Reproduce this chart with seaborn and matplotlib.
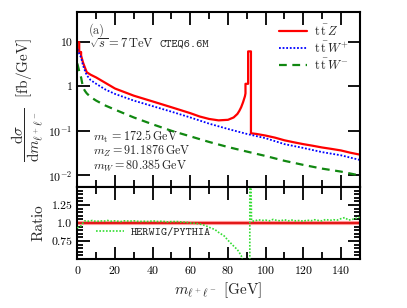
import numpy as np
import pandas as pd
import matplotlib
matplotlib.use("Agg")
import matplotlib.pyplot as plt
from matplotlib.ticker import MultipleLocator, FixedLocator, NullLocator
import seaborn as sns

# --- datos ---
m_ttz = [0, 1, 1, 2, 2, 3, 4, 5, 7, 10, 15, 20, 30, 40, 50, 60, 65, 70, 75, 80,
         83, 85, 86, 87, 88, 89, 89.3, 89.3, 90.7, 90.7, 92.2, 92.2, 95, 100,
         105, 110, 115, 120, 125, 130, 135, 140, 145, 150]
ttz = [10, 10, 6, 6, 5, 3.5, 2.7, 2.1, 1.85, 1.6, 1.2, 0.9, 0.62, 0.46, 0.34,
       0.25, 0.21, 0.185, 0.172, 0.177, 0.2, 0.24, 0.28, 0.34, 0.44, 0.6, 0.7,
       1.15, 1.15, 6.2, 6.2, 0.088, 0.085, 0.078, 0.07, 0.061, 0.055, 0.05,
       0.046, 0.042, 0.039, 0.036, 0.032, 0.029]

m_w = [0, 1, 2, 3, 4, 5, 7, 10, 15, 20, 30, 40, 50, 60, 70, 80, 90, 100, 110,
       120, 130, 140, 150]
ttwp = [7, 5.5, 4.5, 3, 2.3, 1.8, 1.4, 1.15, 0.85, 0.68, 0.48, 0.36, 0.27, 0.2,
        0.145, 0.11, 0.085, 0.068, 0.05, 0.041, 0.033, 0.028, 0.022]
ttwm = [3.3, 2.2, 1.6, 0.96, 0.8, 0.7, 0.58, 0.48, 0.37, 0.3, 0.2, 0.14, 0.1,
        0.075, 0.056, 0.043, 0.034, 0.027, 0.021, 0.017, 0.014, 0.012, 0.0098]

m_ratio = [0, 1, 2, 3, 4, 6, 8, 10, 12, 14, 16, 18, 20, 23, 25, 28, 30, 33, 35,
           38, 40, 43, 45, 48, 50, 53, 55, 58, 60, 63, 65, 68, 70, 73, 75, 78,
           80, 83, 85, 87, 88.5, 91.6, 91.6, 92.2, 92.5, 94, 96, 98, 100, 102,
           104, 106, 108, 110, 112, 114, 116, 118, 120, 122, 124, 126, 128, 130,
           132, 134, 136, 138, 140, 142, 144, 146, 148, 150]
ratio = [0.93, 0.95, 0.96, 1.0, 1.03, 1.025, 1.035, 1.02, 1.03, 1.025, 1.035,
         1.025, 1.03, 1.02, 1.03, 1.025, 1.03, 1.02, 1.025, 1.02, 1.03, 1.02,
         1.025, 1.015, 1.02, 1.02, 1.015, 1.01, 1.0, 0.995, 0.985, 0.965, 0.94,
         0.91, 0.87, 0.82, 0.76, 0.68, 0.63, 0.55, 0.4, 0.4, 1.6, 1.6, 1.03,
         1.025, 1.045, 1.035, 1.04, 1.03, 1.05, 1.035, 1.03, 1.045, 1.03, 1.04,
         1.03, 1.035, 1.025, 1.04, 1.03, 1.045, 1.035, 1.03, 1.05, 1.035, 1.045,
         1.04, 1.06, 1.075, 1.04, 1.05, 1.065, 1.08]

sns.set_theme(style="ticks")
plt.rcParams["font.family"] = ["cmr10"]
plt.rcParams["mathtext.fontset"] = "cm"
plt.rcParams["axes.formatter.use_mathtext"] = True
plt.rcParams["axes.linewidth"] = 1.5

fig = plt.figure(figsize=(4.07, 3.08), dpi=100)
ax = fig.add_axes([0.19, 0.393, 0.694, 0.568])
axr = fig.add_axes([0.19, 0.159, 0.694, 0.234])

df_z = pd.DataFrame({"m": m_ttz, "v": ttz})
df_w = pd.DataFrame({"m": m_w, "wp": ttwp, "wm": ttwm})
df_r = pd.DataFrame({"m": m_ratio, "r": ratio})

sns.lineplot(data=df_z, x="m", y="v", ax=ax, color="#ff0000", lw=1.6,
             estimator=None, sort=False, label=r"$\mathrm{t}\,\bar{\mathrm{t}}\,Z$")
sns.lineplot(data=df_w, x="m", y="wp", ax=ax, color="#0000ff", lw=1.3,
             ls=(0, (1, 1)), estimator=None,
             label=r"$\mathrm{t}\,\bar{\mathrm{t}}\,W^{+}$")
sns.lineplot(data=df_w, x="m", y="wm", ax=ax, color="#118811", lw=1.6,
             ls=(0, (3.5, 2.5)), estimator=None,
             label=r"$\mathrm{t}\,\bar{\mathrm{t}}\,W^{-}$")

ax.set_yscale("log")
ax.set_xlim(0, 150)
ax.set_ylim(0.0054, 48)
ax.yaxis.set_major_locator(FixedLocator([0.01, 0.1, 1, 10]))
ax.yaxis.set_minor_locator(NullLocator())
ax.set_yticklabels([r"$10^{-2}$", r"$10^{-1}$", "1", "10"])
ax.xaxis.set_major_locator(MultipleLocator(20))
ax.xaxis.set_minor_locator(MultipleLocator(10))
ax.tick_params(labelbottom=False)
ax.set_xlabel("")
ax.set_ylabel(r"$\dfrac{\mathrm{d}\sigma}{\mathrm{d}m_{\ell^+\ell^-}}$  [fb/GeV]",
              fontsize=11, labelpad=2)

ax.legend(loc="upper right", frameon=False, fontsize=9, handlelength=2.3,
          handletextpad=0.5, labelspacing=0.15, borderaxespad=0.5)

ax.text(0.04, 0.897, "(a)", transform=ax.transAxes, fontsize=9, va="center",
        color="#444444")
ax.text(0.04, 0.815, r"$\sqrt{s}=7\,\mathrm{TeV}$", transform=ax.transAxes,
        fontsize=9, va="center")
ax.text(0.292, 0.815, "CTEQ6.6M", transform=ax.transAxes, fontsize=8.5,
        va="center", family="cmtt10")
ax.text(0.055, 0.286, r"$m_{\mathrm{t}}\,=172.5\,\mathrm{GeV}$",
        transform=ax.transAxes, fontsize=8.7, va="center")
ax.text(0.055, 0.203, r"$m_{Z}=91.1876\,\mathrm{GeV}$",
        transform=ax.transAxes, fontsize=8.7, va="center")
ax.text(0.055, 0.12, r"$m_{W}=80.385\,\mathrm{GeV}$",
        transform=ax.transAxes, fontsize=8.7, va="center")

# --- panel del cociente ---
axr.axhline(1.0, color="#ff9999", lw=3, zorder=1)
axr.axhline(1.0, color="#dd0000", lw=1.2, zorder=2)
sns.lineplot(data=df_r, x="m", y="r", ax=axr, color="#33dd33", lw=1.2,
             ls=(0, (1, 1)), estimator=None, sort=False, label="HERWIG/PYTHIA",
             zorder=3)
axr.set_xlim(0, 150)
axr.set_ylim(0.5, 1.5)
axr.yaxis.set_major_locator(FixedLocator([0.75, 1.0, 1.25]))
axr.yaxis.set_minor_locator(MultipleLocator(0.05))
axr.set_yticklabels(["0.75", "1.0", "1.25"])
axr.xaxis.set_major_locator(MultipleLocator(20))
axr.xaxis.set_minor_locator(MultipleLocator(10))
axr.set_ylabel("Ratio", fontsize=11, labelpad=4)
axr.set_xlabel(r"$m_{\ell^+\ell^-}$ [GeV]", fontsize=11, labelpad=3)
axr.legend(loc="lower left", bbox_to_anchor=(0.03, 0.14), frameon=False,
           prop={"family": "cmtt10", "size": 8.5}, handlelength=2.3,
           handletextpad=0.6)

for a in (ax, axr):
    a.tick_params(which="both", direction="in", top=True, right=True,
                  width=1.3, labelsize=8.5, colors="black")
    a.tick_params(which="major", length=9)
    a.tick_params(which="minor", length=5)
    for s in a.spines.values():
        s.set_linewidth(1.5)
        s.set_color("black")
axr.tick_params(axis="y", which="minor", length=4)

fig.savefig("out.png", dpi=100)
